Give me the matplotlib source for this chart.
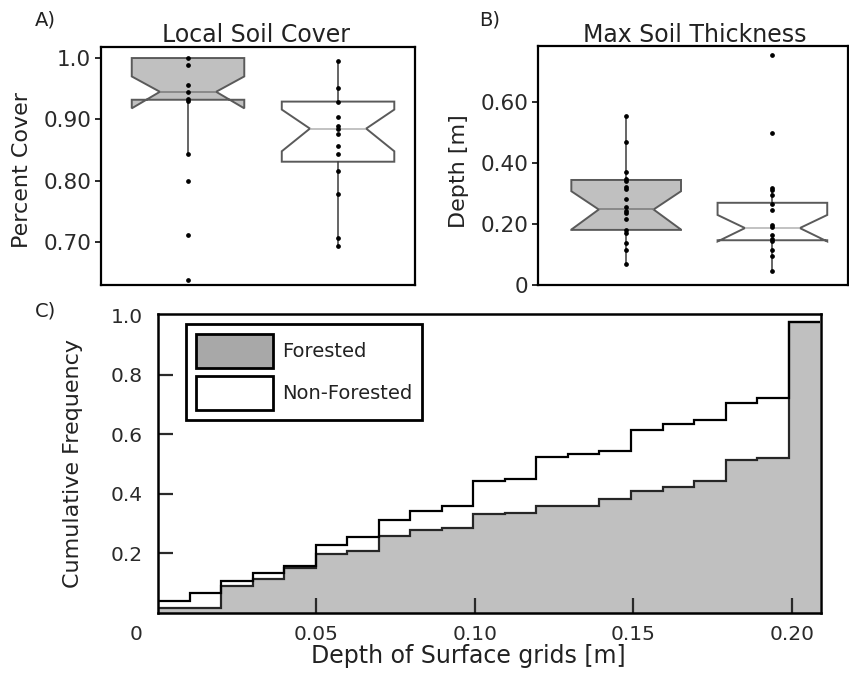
import numpy as np
import matplotlib
matplotlib.use("Agg")
import matplotlib.pyplot as plt
from matplotlib.patches import Patch
from matplotlib.transforms import ScaledTranslation

plt.rcParams['font.family'] = ['DejaVu Sans']

groups = ["Forested", "Non-Forested"]

# A) local soil cover, individual sites
cover_forested = [1.000, 0.988, 0.956, 0.945, 0.934, 0.930, 0.844, 0.800, 0.712, 0.638]
cover_nonforested = [0.995, 0.951, 0.928, 0.904, 0.890, 0.884, 0.876, 0.856,
                     0.843, 0.816, 0.778, 0.706, 0.693]
# box summaries (forested, non-forested)
cover_med = [0.945, 0.885]
cover_q1 = [0.932, 0.831]
cover_q3 = [1.000, 0.929]
cover_cilo = [0.918, 0.848]
cover_cihi = [0.970, 0.916]
cover_whislo = [0.844, 0.693]
cover_whishi = [1.000, 0.995]

# B) max soil thickness [m]
thick_forested = [0.554, 0.471, 0.370, 0.349, 0.342, 0.322, 0.314, 0.281, 0.255,
                  0.244, 0.235, 0.216, 0.182, 0.171, 0.138, 0.115, 0.068]
thick_nonforested = [0.755, 0.500, 0.318, 0.311, 0.297, 0.266, 0.246, 0.198,
                     0.189, 0.165, 0.152, 0.144, 0.115, 0.096, 0.045]
thick_med = [0.248, 0.187]
thick_q1 = [0.181, 0.147]
thick_q3 = [0.345, 0.270]
thick_cilo = [0.182, 0.143]
thick_cihi = [0.308, 0.230]
thick_whislo = [0.068, 0.045]
thick_whishi = [0.554, 0.318]

# C) cumulative frequency of surface grid depth
depth_edges = np.round(np.arange(22) * 0.00995, 5)
cum_forested = [0.016, 0.016, 0.088, 0.114, 0.150, 0.198, 0.206, 0.256, 0.279, 0.284,
                0.333, 0.335, 0.357, 0.360, 0.383, 0.408, 0.422, 0.442, 0.512, 0.519,
                0.979]
cum_nonforested = [0.039, 0.067, 0.107, 0.132, 0.158, 0.228, 0.253, 0.312, 0.341, 0.360,
                   0.444, 0.451, 0.524, 0.532, 0.543, 0.614, 0.636, 0.648, 0.704, 0.721,
                   0.979]

W, H = 849, 683
fig = plt.figure(figsize=(W / 100, H / 100), dpi=100)


def rect(l, t, r, b):
    return [l / W, 1 - b / H, (r - l) / W, (b - t) / H]


def px(x, y):
    return x / W, 1 - y / H


def box_panel(ax, points, med, q1, q3, cilo, cihi, wlo, whi):
    stats = []
    for i in range(2):
        stats.append(dict(med=med[i], q1=q1[i], q3=q3[i], cilo=cilo[i], cihi=cihi[i],
                          whislo=wlo[i], whishi=whi[i], fliers=[]))
    bp = ax.bxp(stats, positions=[1, 2], widths=0.75, shownotches=True,
                patch_artist=True, showfliers=False, showcaps=False,
                boxprops=dict(edgecolor="#5a5a5a", linewidth=1.4),
                whiskerprops=dict(color="#3c3c3c", linewidth=1.1),
                medianprops=dict(linewidth=1.2))
    for patch, fc in zip(bp["boxes"], ["#c0c0c0", "white"]):
        patch.set_facecolor(fc)
    for line, c in zip(bp["medians"], ["#808080", "#b8b8b8"]):
        line.set_color(c)
    for i, vals in enumerate(points):
        ax.plot([i + 1] * len(vals), vals, "o", color="black", ms=2.4, zorder=5)
    ax.set_xticks([])
    ax.tick_params(axis="y", direction="out", length=4, width=1.4,
                   labelsize=15.5, pad=3, colors="#2a2a2a")
    for s in ax.spines.values():
        s.set_linewidth(1.6)


# panel A
axA = fig.add_axes(rect(101, 47, 415, 285))
box_panel(axA, [cover_forested, cover_nonforested], cover_med, cover_q1, cover_q3,
          cover_cilo, cover_cihi, cover_whislo, cover_whishi)
axA.set_xlim(0.42, 2.513)
axA.set_ylim(0.630, 1.018)
axA.set_yticks([0.70, 0.80, 0.90, 1.0])
axA.set_yticklabels(["0.70", "0.80", "0.90", "1.0"])

# panel B
axB = fig.add_axes(rect(538, 46, 848, 285))
box_panel(axB, [thick_forested, thick_nonforested], thick_med, thick_q1, thick_q3,
          thick_cilo, thick_cihi, thick_whislo, thick_whishi)
axB.set_xlim(0.397, 2.517)
axB.set_ylim(0, 0.785)
axB.set_yticks([0, 0.20, 0.40, 0.60])
axB.set_yticklabels(["0", "0.20", "0.40", "0.60"])

# panel C
axC = fig.add_axes(rect(158, 314, 821, 612.5))
axC.stairs(cum_forested, depth_edges, fill=True, color="#c0c0c0", baseline=0)
axC.stairs(cum_forested, depth_edges, baseline=None, color="#262626", linewidth=1.6)
axC.stairs(cum_nonforested, depth_edges, baseline=None, color="black", linewidth=1.6)
axC.set_xlim(0, 0.2092)
axC.set_ylim(0, 1.005)
axC.set_xticks([0, 0.05, 0.10, 0.15, 0.20])
axC.set_xticklabels(["0", "0.05", "0.10", "0.15", "0.20"])
axC.set_yticks([0.2, 0.4, 0.6, 0.8, 1.0])
axC.set_yticklabels(["0.2", "0.4", "0.6", "0.8", "1.0"])
axC.tick_params(direction="in", length=11, width=1.6, labelsize=14.5,
                colors="#2a2a2a")
axC.tick_params(axis="x", pad=9)
axC.tick_params(axis="y", pad=11)
axC.xaxis.get_major_ticks()[0].tick1line.set_visible(False)
axC.yaxis.get_major_ticks()[-1].tick1line.set_visible(False)
zero_lbl = axC.get_xticklabels()[0]
zero_lbl.set_transform(zero_lbl.get_transform()
                       + ScaledTranslation(-0.22, 0, fig.dpi_scale_trans))
for s in axC.spines.values():
    s.set_linewidth(1.8)

handles = [Patch(facecolor="#a8a8a8", edgecolor="black", linewidth=2),
           Patch(facecolor="white", edgecolor="black", linewidth=2)]
leg = axC.legend(handles, groups, loc="upper left", bbox_to_anchor=(0.042, 0.966),
                 borderaxespad=0, fontsize=14, handlelength=4.0, handleheight=2.3,
                 labelspacing=0.45, handletextpad=0.45, borderpad=0.5,
                 fancybox=False, framealpha=1)
leg.get_frame().set_edgecolor("black")
leg.get_frame().set_linewidth(2)
for t in leg.get_texts():
    t.set_color("#222222")

# titles, axis labels, panel letters
txt = dict(color="#222222")
fig.text(*px(256, 41.7), "Local Soil Cover", fontsize=17, ha="center", va="baseline", **txt)
fig.text(*px(695, 41.7), "Max Soil Thickness", fontsize=17, ha="center", va="baseline", **txt)
fig.text(*px(22, 170), "Percent Cover", fontsize=16, rotation=90, ha="center", va="center", **txt)
fig.text(*px(459, 171), "Depth [m]", fontsize=16, rotation=90, ha="center", va="center", **txt)
fig.text(*px(73, 463), "Cumulative Frequency", fontsize=16, rotation=90, ha="center", va="center", **txt)
fig.text(*px(468, 656), "Depth of Surface grids [m]", fontsize=17, ha="center", va="center", **txt)
fig.text(*px(45.5, 20), "A)", fontsize=14, ha="center", va="center", **txt)
fig.text(*px(490, 20), "B)", fontsize=14, ha="center", va="center", **txt)
fig.text(*px(45, 311), "C)", fontsize=14, ha="center", va="center", **txt)

fig.savefig("out.png", dpi=100)
